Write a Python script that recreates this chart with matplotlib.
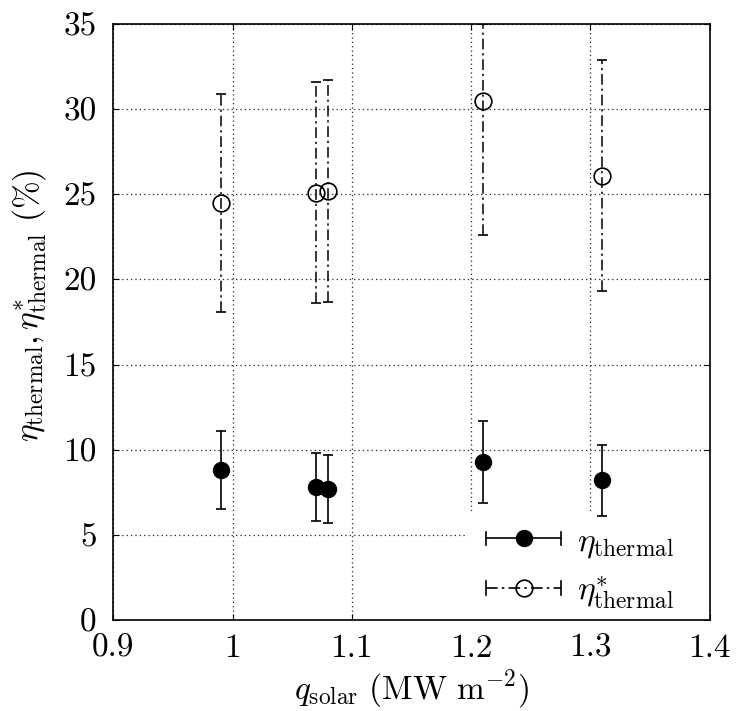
import matplotlib
matplotlib.use("Agg")
import matplotlib.pyplot as plt
from matplotlib.lines import Line2D
from matplotlib.patches import Rectangle
from matplotlib.legend_handler import HandlerBase
import numpy as np

# ---- data ----
q_solar = [0.99, 1.07, 1.08, 1.21, 1.31]
eta = [8.8, 7.8, 7.7, 9.3, 8.2]
eta_low = [6.5, 5.8, 5.7, 6.9, 6.1]
eta_high = [11.1, 9.8, 9.7, 11.7, 10.3]
eta_star = [24.5, 25.1, 25.2, 30.5, 26.1]
eta_star_low = [18.1, 18.6, 18.7, 22.6, 19.3]
eta_star_high = [30.9, 31.6, 31.7, 35.0, 32.9]

xticks = [0.9, 1.0, 1.1, 1.2, 1.3, 1.4]
xticklabels = ['0.9', '1', '1.1', '1.2', '1.3', '1.4']
yticks = [0, 5, 10, 15, 20, 25, 30, 35]
yticklabels = ['0', '5', '10', '15', '20', '25', '30', '35']

plt.rcParams['font.family'] = ['cmr10']
plt.rcParams['mathtext.fontset'] = 'cm'
plt.rcParams['axes.formatter.use_mathtext'] = True

FS = 24
DASHDOT = (0, (7, 2.5, 1.5, 2.5))

fig = plt.figure(figsize=(7.41, 7.11), dpi=100)
ax = fig.add_axes([0.1529, 0.128, 0.8048, 0.8382])

x = np.array(q_solar)
e = np.array(eta)
es = np.array(eta_star)
yerr1 = [e - np.array(eta_low), np.array(eta_high) - e]
yerr2 = [es - np.array(eta_star_low), np.array(eta_star_high) - es]

c1 = ax.errorbar(x, e, yerr=yerr1, fmt='o', color='black', ms=11.5,
                 mfc='black', mec='black', elinewidth=1.2, capsize=3.8,
                 capthick=1.2, zorder=3)
c2 = ax.errorbar(x, es, yerr=yerr2, fmt='o', color='black', ms=12,
                 mfc='none', mec='black', mew=1.2, elinewidth=1.1,
                 capsize=3.8, capthick=1.2, zorder=3)
for lc in c2[2]:
    lc.set_linestyle(DASHDOT)

ax.set_xlim(0.9, 1.4)
ax.set_ylim(0, 35)
ax.set_xticks(xticks)
ax.set_xticklabels(xticklabels)
ax.set_yticks(yticks)
ax.set_yticklabels(yticklabels)
ax.tick_params(direction='in', length=4, width=0.8, top=True, right=True,
               labelsize=FS)
ax.tick_params(axis='y', pad=12)
ax.tick_params(axis='x', pad=10)
for s in ax.spines.values():
    s.set_linewidth(1.2)

ax.set_axisbelow(True)
ax.grid(True, linestyle=(0, (1, 2.5)), linewidth=0.9, color='0.15')

ax.set_xlabel(r'$q_{\mathrm{solar}}\ (\mathrm{MW\ m^{-2}})$', fontsize=FS)
ax.xaxis.set_label_coords(0.5, -0.079)
ax.set_ylabel(r'$\eta_{\mathrm{thermal}}, \eta^{*}_{\mathrm{thermal}}\ (\%)$',
              fontsize=FS)
ax.yaxis.set_label_coords(-0.108, 0.527)

# white key background (gnuplot-style opaque key), above grid, below data
ax.add_patch(Rectangle((0.595, 0.0), 0.405, 0.1795, transform=ax.transAxes,
                       facecolor='white', edgecolor='none', zorder=1.5))


class HErrHandler(HandlerBase):
    def __init__(self, filled, ls):
        super().__init__()
        self.filled = filled
        self.ls = ls

    def create_artists(self, legend, orig_handle, xdescent, ydescent,
                       width, height, fontsize, trans):
        y = height / 2 - ydescent
        x0 = -xdescent
        x1 = width - xdescent
        cap = 5
        arts = []
        arts.append(Line2D([x0, x1], [y, y], color='black', lw=1.2,
                           linestyle=self.ls))
        arts.append(Line2D([x0, x0], [y - cap, y + cap], color='black', lw=1.2))
        arts.append(Line2D([x1, x1], [y - cap, y + cap], color='black', lw=1.2))
        if self.filled:
            arts.append(Line2D([(x0 + x1) / 2], [y], marker='o', ms=11.5,
                               mfc='black', mec='black', linestyle='none'))
        else:
            arts.append(Line2D([(x0 + x1) / 2], [y], marker='o', ms=12,
                               mfc='none', mec='black', mew=1.2,
                               linestyle='none'))
        for a in arts:
            a.set_transform(trans)
        return arts


leg = ax.legend([c1, c2],
                [r'$\eta_{\mathrm{thermal}}$', r'$\eta^{*}_{\mathrm{thermal}}$'],
                handler_map={c1: HErrHandler(True, '-'),
                             c2: HErrHandler(False, DASHDOT)},
                loc='center left', bbox_to_anchor=(0.625, 0.0857),
                fontsize=FS, frameon=False, handlelength=2.25,
                handletextpad=0.48, labelspacing=0.44, borderpad=0.0,
                borderaxespad=0.0)
leg.set_zorder(5)

fig.savefig('out.png', dpi=100)
